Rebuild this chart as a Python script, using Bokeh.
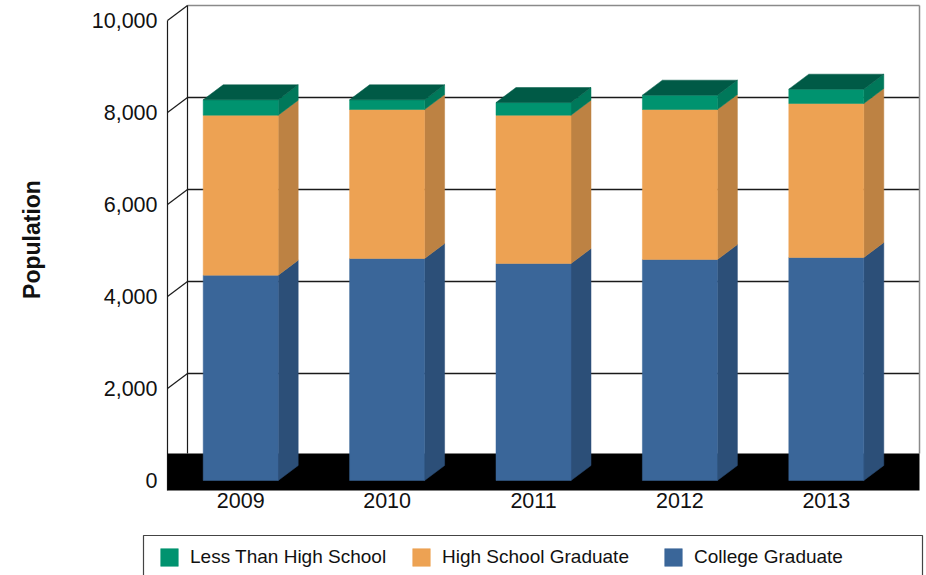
import math
from bokeh.plotting import figure
from bokeh.models import Range1d, Legend, LegendItem
from bokeh.embed import file_html
from bokeh.resources import INLINE
from bokeh.core.properties import value

# ---------------- data ----------------
years = ["2009", "2010", "2011", "2012", "2013"]
college_graduate = [4464, 4826, 4717, 4804, 4848]
high_school_graduate = [3477, 3239, 3224, 3261, 3348]
less_than_high_school = [335, 211, 276, 312, 311]
series_names = ["College Graduate", "High School Graduate", "Less Than High School"]
y_ticks = [0, 2000, 4000, 6000, 8000, 10000]
y_tick_labels = ["0", "2,000", "4,000", "6,000", "8,000", "10,000"]
y_axis_title = "Population"

# ---------------- layout / style ----------------
W, H = 926, 575
PLOT_LEFT_PX = 167.0      # front-left edge of plot area
CAT_PX = 146.4            # width of one category, px
ZERO_PX = 480.0           # front zero line, px from top
PX_PER_UNIT = 0.046       # vertical px per population unit
DEPTH_X_PX, DEPTH_Y_PX = 20.0, 15.0
BAR_PX = 75.0
FONT_NAME = "Liberation Sans"
FONT = value(FONT_NAME)

front_colors = ["#3a6699", "#eda253", "#00936f"]
side_colors = ["#2c4f78", "#bd8243", "#00785a"]
top_color = "#005a46"


def px_to_x(px):
    return (px - PLOT_LEFT_PX) / CAT_PX - 0.5


def py_to_y(py):
    return (ZERO_PX - py) / PX_PER_UNIT


dx = DEPTH_X_PX / CAT_PX
dy = DEPTH_Y_PX / PX_PER_UNIT
half = BAR_PX / CAT_PX / 2.0
n = len(years)
xs = list(range(n))

p = figure(width=W, height=H, output_backend="svg", toolbar_location=None,
           x_range=Range1d(px_to_x(0), px_to_x(W)),
           y_range=Range1d(py_to_y(H), py_to_y(0)),
           x_axis_location=None, y_axis_location=None,
           min_border=0, min_border_left=0, min_border_right=0,
           min_border_top=0, min_border_bottom=0)
p.outline_line_color = None
p.xgrid.visible = False
p.ygrid.visible = False
p.background_fill_color = "white"
p.border_fill_color = "white"

x_left = -0.5
x_right = n - 0.5
top_val = y_ticks[-1]

# back wall grid lines
for t in y_ticks[1:]:
    col = "#8a8a8a" if t == top_val else "#1a1a1a"
    p.segment(x0=[x_left + dx], y0=[t + dy], x1=[x_right + dx], y1=[t + dy],
              line_color=col, line_width=1.3)
# left wall diagonals
p.segment(x0=[x_left] * (len(y_ticks) - 1), y0=y_ticks[1:],
          x1=[x_left + dx] * (len(y_ticks) - 1), y1=[t + dy for t in y_ticks[1:]],
          line_color="#1a1a1a", line_width=1.2)

floor_bottom = py_to_y(490)
floor_top = py_to_y(453)
# vertical wall edges
p.segment(x0=[x_left + dx], y0=[floor_top], x1=[x_left + dx], y1=[top_val + dy],
          line_color="#1a1a1a", line_width=1.2)
p.segment(x0=[x_right + dx], y0=[floor_top], x1=[x_right + dx], y1=[top_val + dy],
          line_color="#8a8a8a", line_width=1.5)
p.segment(x0=[x_left], y0=[floor_bottom], x1=[x_left], y1=[top_val],
          line_color="#1a1a1a", line_width=1.2)

# floor
p.quad(left=[x_left], right=[x_right + dx], bottom=[floor_bottom], top=[floor_top],
       fill_color="black", line_color=None)

# stacked 3D bars
stacks = [college_graduate, high_school_graduate, less_than_high_school]
bottoms = [0.0] * n
front_renderers = []
for s, vals in enumerate(stacks):
    tops = [b + v for b, v in zip(bottoms, vals)]
    side_xs = [[x + half, x + half + dx, x + half + dx, x + half] for x in xs]
    side_ys = [[b, b + dy, t + dy, t] for b, t in zip(bottoms, tops)]
    p.patches(side_xs, side_ys, fill_color=side_colors[s], line_color=side_colors[s],
              line_width=0.5)
    r = p.quad(left=[x - half for x in xs], right=[x + half for x in xs],
               bottom=bottoms, top=tops, fill_color=front_colors[s],
               line_color=front_colors[s], line_width=0.5)
    front_renderers.append(r)
    bottoms = tops

top_xs = [[x - half, x - half + dx, x + half + dx, x + half] for x in xs]
top_ys = [[t, t + dy, t + dy, t] for t in bottoms]
p.patches(top_xs, top_ys, fill_color=top_color, line_color=top_color, line_width=0.5)

# tick labels
p.text(x=[px_to_x(157)] * len(y_ticks), y=y_ticks, text=y_tick_labels,
       text_align="right", text_baseline="middle", text_font=FONT,
       text_font_size="21.5px", text_color="#111111")
p.text(x=xs, y=[py_to_y(500)] * n, text=years, text_align="center",
       text_baseline="middle", text_font=FONT, text_font_size="21.5px",
       text_color="#111111")
p.text(x=[px_to_x(31)], y=[py_to_y(239)], text=[y_axis_title], angle=math.pi / 2,
       text_align="center", text_baseline="middle", text_font=FONT,
       text_font_size="23px", text_font_style="bold", text_color="#111111")

# legend box
p.quad(left=[px_to_x(143)], right=[px_to_x(922)], top=[py_to_y(535)],
       bottom=[py_to_y(600)], fill_color="white", line_color="#444444", line_width=1.2)

items = [LegendItem(label=series_names[i], renderers=[front_renderers[i]])
         for i in (2, 1, 0)]
legend = Legend(items=items, orientation="horizontal", location=(158, 7),
                padding=0, margin=0, spacing=17, glyph_width=22, glyph_height=22,
                label_standoff=10, label_width=203, label_height=18,
                label_text_font=FONT_NAME, label_text_font_size="19px",
                label_text_color="#111111",
                border_line_alpha=0, background_fill_alpha=0)
p.add_layout(legend)

open("out.html", "w").write(file_html(p, INLINE))
